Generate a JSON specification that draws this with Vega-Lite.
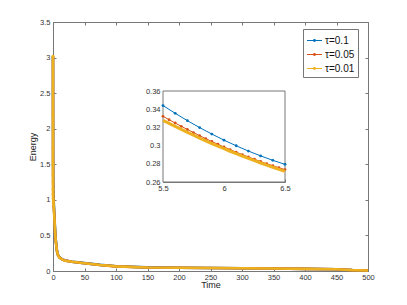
{
  "$schema": "https://vega.github.io/schema/vega-lite/v6.json",
  "width": 315,
  "height": 249,
  "autosize": {"type": "none"},
  "padding": {"left": 53, "top": 22, "right": 39, "bottom": 34},
  "background": "white",
  "datasets": {
    "main": [
      {"t": 0, "E": 3.02, "tau": "τ=0.1"}, {"t": 0.1, "E": 2.2, "tau": "τ=0.1"}, {"t": 0.2, "E": 1.7, "tau": "τ=0.1"}, {"t": 0.3, "E": 1.45, "tau": "τ=0.1"}, {"t": 0.5, "E": 1.2, "tau": "τ=0.1"}, {"t": 1, "E": 1.0, "tau": "τ=0.1"}, {"t": 2, "E": 0.82, "tau": "τ=0.1"}, {"t": 3, "E": 0.63, "tau": "τ=0.1"}, {"t": 4, "E": 0.48, "tau": "τ=0.1"}, {"t": 5, "E": 0.39, "tau": "τ=0.1"}, {"t": 6, "E": 0.306, "tau": "τ=0.1"}, {"t": 7, "E": 0.255, "tau": "τ=0.1"}, {"t": 8, "E": 0.225, "tau": "τ=0.1"}, {"t": 10, "E": 0.195, "tau": "τ=0.1"}, {"t": 15, "E": 0.162, "tau": "τ=0.1"}, {"t": 20, "E": 0.147, "tau": "τ=0.1"}, {"t": 30, "E": 0.131, "tau": "τ=0.1"}, {"t": 40, "E": 0.121, "tau": "τ=0.1"}, {"t": 50, "E": 0.111, "tau": "τ=0.1"}, {"t": 75, "E": 0.086, "tau": "τ=0.1"}, {"t": 100, "E": 0.066, "tau": "τ=0.1"}, {"t": 150, "E": 0.051, "tau": "τ=0.1"}, {"t": 200, "E": 0.046, "tau": "τ=0.1"}, {"t": 250, "E": 0.043, "tau": "τ=0.1"}, {"t": 300, "E": 0.039, "tau": "τ=0.1"}, {"t": 350, "E": 0.035, "tau": "τ=0.1"}, {"t": 400, "E": 0.03, "tau": "τ=0.1"}, {"t": 450, "E": 0.025, "tau": "τ=0.1"}, {"t": 475, "E": 0.012, "tau": "τ=0.1"}, {"t": 500, "E": 0.006, "tau": "τ=0.1"},
      {"t": 0, "E": 3.02, "tau": "τ=0.05"}, {"t": 0.05, "E": 2.2, "tau": "τ=0.05"}, {"t": 0.1, "E": 1.72, "tau": "τ=0.05"}, {"t": 0.15, "E": 1.48, "tau": "τ=0.05"}, {"t": 0.25, "E": 1.25, "tau": "τ=0.05"}, {"t": 0.5, "E": 1.05, "tau": "τ=0.05"}, {"t": 1, "E": 0.95, "tau": "τ=0.05"}, {"t": 2, "E": 0.79, "tau": "τ=0.05"}, {"t": 3, "E": 0.61, "tau": "τ=0.05"}, {"t": 4, "E": 0.46, "tau": "τ=0.05"}, {"t": 5, "E": 0.38, "tau": "τ=0.05"}, {"t": 6, "E": 0.2985, "tau": "τ=0.05"}, {"t": 7, "E": 0.252, "tau": "τ=0.05"}, {"t": 8, "E": 0.222, "tau": "τ=0.05"}, {"t": 10, "E": 0.192, "tau": "τ=0.05"}, {"t": 15, "E": 0.161, "tau": "τ=0.05"}, {"t": 20, "E": 0.146, "tau": "τ=0.05"}, {"t": 30, "E": 0.13, "tau": "τ=0.05"}, {"t": 40, "E": 0.12, "tau": "τ=0.05"}, {"t": 50, "E": 0.11, "tau": "τ=0.05"}, {"t": 75, "E": 0.085, "tau": "τ=0.05"}, {"t": 100, "E": 0.065, "tau": "τ=0.05"}, {"t": 150, "E": 0.05, "tau": "τ=0.05"}, {"t": 200, "E": 0.045, "tau": "τ=0.05"}, {"t": 250, "E": 0.042, "tau": "τ=0.05"}, {"t": 300, "E": 0.038, "tau": "τ=0.05"}, {"t": 350, "E": 0.035, "tau": "τ=0.05"}, {"t": 400, "E": 0.03, "tau": "τ=0.05"}, {"t": 450, "E": 0.025, "tau": "τ=0.05"}, {"t": 475, "E": 0.012, "tau": "τ=0.05"}, {"t": 500, "E": 0.006, "tau": "τ=0.05"},
      {"t": 0, "E": 3.02, "tau": "τ=0.01"}, {"t": 0.01, "E": 2.2, "tau": "τ=0.01"}, {"t": 0.02, "E": 1.73, "tau": "τ=0.01"}, {"t": 0.03, "E": 1.5, "tau": "τ=0.01"}, {"t": 0.04, "E": 1.35, "tau": "τ=0.01"}, {"t": 0.05, "E": 1.25, "tau": "τ=0.01"}, {"t": 0.07, "E": 1.15, "tau": "τ=0.01"}, {"t": 0.1, "E": 1.08, "tau": "τ=0.01"}, {"t": 0.2, "E": 1.02, "tau": "τ=0.01"}, {"t": 0.5, "E": 0.98, "tau": "τ=0.01"}, {"t": 1, "E": 0.93, "tau": "τ=0.01"}, {"t": 2, "E": 0.78, "tau": "τ=0.01"}, {"t": 3, "E": 0.6, "tau": "τ=0.01"}, {"t": 4, "E": 0.45, "tau": "τ=0.01"}, {"t": 5, "E": 0.37, "tau": "τ=0.01"}, {"t": 6, "E": 0.2966, "tau": "τ=0.01"}, {"t": 7, "E": 0.25, "tau": "τ=0.01"}, {"t": 8, "E": 0.22, "tau": "τ=0.01"}, {"t": 10, "E": 0.19, "tau": "τ=0.01"}, {"t": 15, "E": 0.16, "tau": "τ=0.01"}, {"t": 20, "E": 0.145, "tau": "τ=0.01"}, {"t": 30, "E": 0.13, "tau": "τ=0.01"}, {"t": 40, "E": 0.12, "tau": "τ=0.01"}, {"t": 50, "E": 0.11, "tau": "τ=0.01"}, {"t": 75, "E": 0.085, "tau": "τ=0.01"}, {"t": 100, "E": 0.065, "tau": "τ=0.01"}, {"t": 150, "E": 0.05, "tau": "τ=0.01"}, {"t": 200, "E": 0.045, "tau": "τ=0.01"}, {"t": 250, "E": 0.042, "tau": "τ=0.01"}, {"t": 300, "E": 0.038, "tau": "τ=0.01"}, {"t": 350, "E": 0.035, "tau": "τ=0.01"}, {"t": 400, "E": 0.03, "tau": "τ=0.01"}, {"t": 450, "E": 0.025, "tau": "τ=0.01"}, {"t": 475, "E": 0.012, "tau": "τ=0.01"}, {"t": 500, "E": 0.006, "tau": "τ=0.01"}
    ],
    "inset": [
      {"t": 5.5, "E": 0.344, "tau": "τ=0.1"}, {"t": 5.6, "E": 0.3355, "tau": "τ=0.1"}, {"t": 5.7, "E": 0.3274, "tau": "τ=0.1"}, {"t": 5.8, "E": 0.3198, "tau": "τ=0.1"}, {"t": 5.9, "E": 0.3127, "tau": "τ=0.1"}, {"t": 6.0, "E": 0.306, "tau": "τ=0.1"}, {"t": 6.1, "E": 0.2998, "tau": "τ=0.1"}, {"t": 6.2, "E": 0.294, "tau": "τ=0.1"}, {"t": 6.3, "E": 0.2887, "tau": "τ=0.1"}, {"t": 6.4, "E": 0.2838, "tau": "τ=0.1"}, {"t": 6.5, "E": 0.2794, "tau": "τ=0.1"},
      {"t": 5.5, "E": 0.3322, "tau": "τ=0.05"}, {"t": 5.55, "E": 0.3284, "tau": "τ=0.05"}, {"t": 5.6, "E": 0.3248, "tau": "τ=0.05"}, {"t": 5.65, "E": 0.3212, "tau": "τ=0.05"}, {"t": 5.7, "E": 0.3177, "tau": "τ=0.05"}, {"t": 5.75, "E": 0.3143, "tau": "τ=0.05"}, {"t": 5.8, "E": 0.3109, "tau": "τ=0.05"}, {"t": 5.85, "E": 0.3077, "tau": "τ=0.05"}, {"t": 5.9, "E": 0.3045, "tau": "τ=0.05"}, {"t": 5.95, "E": 0.3015, "tau": "τ=0.05"}, {"t": 6.0, "E": 0.2985, "tau": "τ=0.05"}, {"t": 6.05, "E": 0.2956, "tau": "τ=0.05"}, {"t": 6.1, "E": 0.2928, "tau": "τ=0.05"}, {"t": 6.15, "E": 0.2901, "tau": "τ=0.05"}, {"t": 6.2, "E": 0.2875, "tau": "τ=0.05"}, {"t": 6.25, "E": 0.285, "tau": "τ=0.05"}, {"t": 6.3, "E": 0.2825, "tau": "τ=0.05"}, {"t": 6.35, "E": 0.2801, "tau": "τ=0.05"}, {"t": 6.4, "E": 0.2779, "tau": "τ=0.05"}, {"t": 6.45, "E": 0.2757, "tau": "τ=0.05"}, {"t": 6.5, "E": 0.2736, "tau": "τ=0.05"},
      {"t": 5.5, "E": 0.3278, "tau": "τ=0.01"}, {"t": 5.55, "E": 0.3244, "tau": "τ=0.01"}, {"t": 5.6, "E": 0.3211, "tau": "τ=0.01"}, {"t": 5.65, "E": 0.3178, "tau": "τ=0.01"}, {"t": 5.7, "E": 0.3146, "tau": "τ=0.01"}, {"t": 5.75, "E": 0.3114, "tau": "τ=0.01"}, {"t": 5.8, "E": 0.3083, "tau": "τ=0.01"}, {"t": 5.85, "E": 0.3053, "tau": "τ=0.01"}, {"t": 5.9, "E": 0.3023, "tau": "τ=0.01"}, {"t": 5.95, "E": 0.2994, "tau": "τ=0.01"}, {"t": 6.0, "E": 0.2966, "tau": "τ=0.01"}, {"t": 6.05, "E": 0.2938, "tau": "τ=0.01"}, {"t": 6.1, "E": 0.2911, "tau": "τ=0.01"}, {"t": 6.15, "E": 0.2885, "tau": "τ=0.01"}, {"t": 6.2, "E": 0.2859, "tau": "τ=0.01"}, {"t": 6.25, "E": 0.2834, "tau": "τ=0.01"}, {"t": 6.3, "E": 0.2809, "tau": "τ=0.01"}, {"t": 6.35, "E": 0.2785, "tau": "τ=0.01"}, {"t": 6.4, "E": 0.2762, "tau": "τ=0.01"}, {"t": 6.45, "E": 0.2739, "tau": "τ=0.01"}, {"t": 6.5, "E": 0.2717, "tau": "τ=0.01"}
    ]
  },
  "layer": [
    {
      "layer": [
        {
          "data": {"name": "main"},
          "mark": {"type": "line", "strokeWidth": 2.6},
          "encoding": {
            "x": {"field": "t", "type": "quantitative", "scale": {"domain": [0, 500], "nice": false, "zero": false},
                  "axis": {"values": [0, 50, 100, 150, 200, 250, 300, 350, 400, 450, 500], "title": "Time"}},
            "y": {"field": "E", "type": "quantitative", "scale": {"domain": [0, 3.5], "nice": false},
                  "axis": {"values": [0, 0.5, 1, 1.5, 2, 2.5, 3, 3.5], "title": "Energy", "format": "~g"}},
            "color": {"field": "tau", "type": "nominal",
                      "scale": {"domain": ["τ=0.1", "τ=0.05", "τ=0.01"], "range": ["#0072BD", "#D95319", "#EDB120"]},
                      "legend": {"title": null, "orient": "none", "legendX": 250, "legendY": 7}},
            "order": {"field": "t", "type": "quantitative"}
          }
        },
        {
          "data": {"name": "main"},
          "transform": [{"filter": "datum.tau == 'τ=0.01' && datum.t <= 1"}],
          "mark": {"type": "point", "filled": true, "size": 8, "opacity": 1},
          "encoding": {
            "x": {"field": "t", "type": "quantitative",
                  "axis": {"orient": "top", "values": [0, 50, 100, 150, 200, 250, 300, 350, 400, 450, 500], "labels": false, "domain": false, "title": null}},
            "y": {"field": "E", "type": "quantitative",
                  "axis": {"orient": "right", "values": [0, 0.5, 1, 1.5, 2, 2.5, 3, 3.5], "labels": false, "domain": false, "title": null}},
            "color": {"field": "tau", "type": "nominal"}
          }
        }
      ],
      "resolve": {"axis": {"x": "independent", "y": "independent"}}
    },
    {
      "layer": [
        {
          "data": {"values": [{}]},
          "mark": {"type": "rect", "fill": "white", "stroke": "#777", "strokeWidth": 1},
          "encoding": {
            "x": {"datum": 5.5, "type": "quantitative", "scale": {"domain": [5.5, 6.5], "range": [110, 232], "nice": false, "zero": false},
                  "axis": {"orient": "bottom", "offset": -89, "values": [5.5, 6, 6.5], "format": "~g", "title": null}},
            "x2": {"datum": 6.5},
            "y": {"datum": 0.26, "type": "quantitative", "scale": {"domain": [0.26, 0.36], "range": [160, 69], "nice": false, "zero": false},
                  "axis": {"orient": "left", "offset": -110, "values": [0.26, 0.28, 0.3, 0.32, 0.34, 0.36], "format": "~g", "title": null}},
            "y2": {"datum": 0.36}
          }
        },
        {
          "data": {"name": "inset"},
          "transform": [{"filter": {"field": "tau", "oneOf": ["τ=0.1", "τ=0.05"]}}],
          "mark": {"type": "line", "strokeWidth": 1, "point": {"filled": true, "size": 8}},
          "encoding": {
            "x": {"field": "t", "type": "quantitative", "scale": {"domain": [5.5, 6.5], "range": [110, 232], "nice": false, "zero": false}},
            "y": {"field": "E", "type": "quantitative", "scale": {"domain": [0.26, 0.36], "range": [160, 69], "nice": false, "zero": false}},
            "color": {"field": "tau", "type": "nominal"}
          }
        },
        {
          "data": {"name": "inset"},
          "transform": [{"filter": {"field": "tau", "equal": "τ=0.01"}}],
          "mark": {"type": "line", "strokeWidth": 3},
          "encoding": {
            "x": {"field": "t", "type": "quantitative", "scale": {"domain": [5.5, 6.5], "range": [110, 232], "nice": false, "zero": false}},
            "y": {"field": "E", "type": "quantitative", "scale": {"domain": [0.26, 0.36], "range": [160, 69], "nice": false, "zero": false}},
            "color": {"field": "tau", "type": "nominal"}
          }
        }
      ]
    }
  ],
  "resolve": {"scale": {"x": "independent", "y": "independent"}},
  "config": {
    "font": "Liberation Sans",
    "view": {"stroke": "#777", "strokeWidth": 1},
    "axis": {
      "grid": false,
      "labelFlush": false,
      "domainColor": "#777",
      "tickColor": "#777",
      "tickSize": -3,
      "labelPadding": 6,
      "labelFontSize": 7.5,
      "labelColor": "#333",
      "titleFontSize": 9,
      "titleFontWeight": "normal",
      "titleColor": "#222",
      "titlePadding": 2
    },
    "axisX": {"labelPadding": 5, "titlePadding": 0},
    "legend": {
      "strokeColor": "#777",
      "fillColor": "white",
      "padding": 3,
      "rowPadding": 0,
      "labelFontSize": 10,
      "labelColor": "#111",
      "labelOffset": 2,
      "symbolType": "M-1,0L1,0M-0.12,0A0.12,0.12 0 1,0 0.12,0A0.12,0.12 0 1,0 -0.12,0",
      "symbolSize": 225,
      "symbolStrokeWidth": 1.1,
      "symbolFillColor": "transparent"
    }
  }
}
